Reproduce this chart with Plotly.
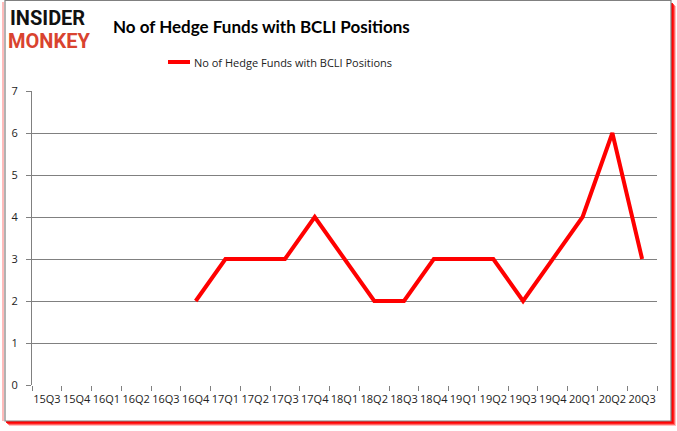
import plotly.graph_objects as go

quarters = ["15Q3", "15Q4", "16Q1", "16Q2", "16Q3", "16Q4", "17Q1", "17Q2", "17Q3", "17Q4",
            "18Q1", "18Q2", "18Q3", "18Q4", "19Q1", "19Q2", "19Q3", "19Q4", "20Q1", "20Q2", "20Q3"]
hedge_funds = [None, None, None, None, None, 2, 3, 3, 3, 4,
               3, 2, 2, 3, 3, 3, 2, 3, 4, 6, 3]
y_ticks = [0, 1, 2, 3, 4, 5, 6, 7]
series_name = "No of Hedge Funds with BCLI Positions"
title_text = "No of Hedge Funds with BCLI Positions"

W, H = 677, 431
L, R, T, B = 32, 657, 91, 385  # plot area pixels


def px(x):
    return (x - L) / (R - L)


def py(y):
    return (B - y) / (B - T)


fig = go.Figure()
fig.add_trace(go.Scatter(
    x=quarters, y=hedge_funds, mode="lines", name=series_name,
    line=dict(color="#ff0000", width=4), connectgaps=False, showlegend=False,
))
# helper trace (invisible) to carry the tick-mark axis
fig.add_trace(go.Scatter(
    x=quarters, y=hedge_funds, mode="lines", xaxis="x2", opacity=0,
    line=dict(width=0), hoverinfo="skip", showlegend=False,
))

shapes = []
# shadow layers
for off, op in [(5, 0.25), (4, 0.45), (3, 0.7), (2, 0.9)]:
    shapes.append(dict(type="rect", xref="paper", yref="paper", layer="below",
                       x0=px(5 + off - 1), x1=px(671 + off), y0=py(421 + off), y1=py(1 + off),
                       fillcolor="rgba(255,0,0,%s)" % op, line=dict(width=0)))
shapes.append(dict(type="rect", xref="paper", yref="paper", layer="below",
                   x0=px(5), x1=px(671), y0=py(421), y1=py(0.5),
                   fillcolor="white", line=dict(color="#808080", width=1.2)))
# left pink edge
shapes.append(dict(type="line", xref="paper", yref="paper", layer="below",
                   x0=px(3), x1=px(3), y0=py(421), y1=py(2),
                   line=dict(color="rgba(255,120,120,0.5)", width=2)))
# legend line sample
shapes.append(dict(type="line", xref="paper", yref="paper",
                   x0=px(168), x1=px(190), y0=py(62), y1=py(62),
                   line=dict(color="#ff0000", width=4)))

fig.update_layout(
    width=W, height=H,
    margin=dict(l=L, r=W - R, t=T, b=H - B, autoexpand=False),
    paper_bgcolor="white", plot_bgcolor="white",
    shapes=shapes,
    showlegend=False,
    xaxis=dict(type="category", range=[-0.5, len(quarters) - 0.5], showgrid=False,
               ticks="", showline=False, tickangle=0, automargin=False,
               ticklabelstandoff=6,
               tickfont=dict(family="Open Sans", size=11, color="#222")),
    xaxis2=dict(type="category", range=[-0.5, len(quarters) - 0.5], overlaying="x", side="bottom",
                showgrid=False, tickson="boundaries", ticks="outside", ticklen=5,
                tickcolor="#808080", tickwidth=1, showticklabels=False, showline=False,
                automargin=False),
    yaxis=dict(range=[0, 7], tickvals=y_ticks, showgrid=True, gridcolor="#808080", gridwidth=1,
               showline=True, linecolor="#808080", linewidth=1, ticks="outside", ticklen=5,
               tickcolor="#808080", zeroline=False, automargin=False, ticklabelstandoff=6,
               tickfont=dict(family="Open Sans", size=11, color="#222")),
    annotations=[
        dict(text="<b>" + title_text + "</b>", xref="paper", yref="paper", x=px(261), y=py(26),
             xanchor="center", yanchor="middle", showarrow=False,
             font=dict(family="Lato", size=17, color="#000")),
        dict(text=series_name, xref="paper", yref="paper", x=px(192), y=py(62),
             xanchor="left", yanchor="middle", showarrow=False,
             font=dict(family="Open Sans", size=11, color="#222")),
        dict(text="<b>INSIDER</b>", xref="paper", yref="paper", x=px(8), y=py(18),
             xanchor="left", yanchor="middle", showarrow=False,
             font=dict(family="Roboto", size=20, color="#111")),
        dict(text="<b>MONKEY</b>", xref="paper", yref="paper", x=px(6), y=py(41),
             xanchor="left", yanchor="middle", showarrow=False,
             font=dict(family="Roboto", size=20, color="#d9432f")),
    ],
)

fig.write_html("out.html", config={"displayModeBar": False},
               post_script="document.body.style.margin='0';document.body.style.overflow='hidden';")
